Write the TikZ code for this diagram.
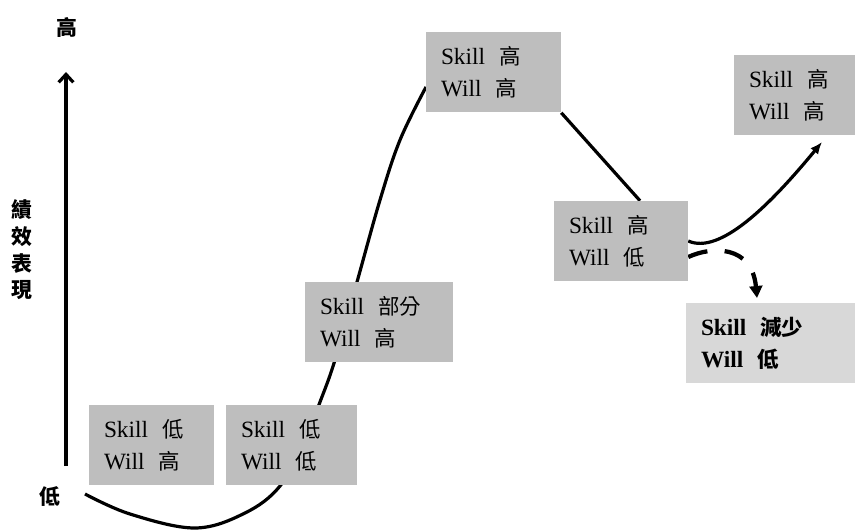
\documentclass[tikz,border=0pt]{standalone}
\usepackage{fontspec}
\setmainfont{Liberation Serif}
\newfontfamily\cjk{Noto Sans CJK TC}[Scale=0.92]
\usetikzlibrary{arrows.meta,backgrounds}
\definecolor{boxgray}{RGB}{190,190,190}
\definecolor{boxlight}{RGB}{216,216,216}
% a Chinese word after a Latin word, with a wide gap
\newcommand\zh[1]{\hspace{0.6em}{\cjk #1}}

\begin{document}
\begin{tikzpicture}[x=0.75pt,y=-0.75pt,
  box/.style={fill=boxgray, inner xsep=11.25pt, inner ysep=0pt,
    minimum height=60pt, align=left, font=\fontsize{17.5}{24}\selectfont},
  axislabel/.style={font=\cjk\bfseries\fontsize{17}{20}\selectfont,
    inner sep=0pt, align=center},
  curve/.style={line width=2.4pt}]
\useasboundingbox (0,0) rectangle (855,531);

% axis labels
\node[axislabel] (hi) at (67,27) {高};
\node[axislabel] (lo) at (50,497) {低};
\node[axislabel] (ylab) at (22,250) {績\\效\\表\\現};

% vertical axis
\coordinate (ax0) at (66,466);
\coordinate (ax1) at (66,72);
\draw[line width=2.4pt, -{Straight Barb[length=6pt,width=11pt]}] (ax0) -- (ax1);

% stage boxes
\node[box, text width=71.25pt] (B1) at (151.5,445) {Skill\zh{低}\\Will\zh{高}};
\node[box, text width=75.75pt] (B2) at (291.5,445) {Skill\zh{低}\\Will\zh{低}};
\node[box, text width=88.5pt]  (B3) at (379,322)   {Skill\zh{部分}\\Will\zh{高}};
\node[box, text width=78.75pt] (B4) at (493.5,72.5) {Skill\zh{高}\\Will\zh{高}};
\node[box, text width=78pt]    (B5) at (621,241)   {Skill\zh{高}\\Will\zh{低}};
\node[box, text width=68.25pt] (B6) at (794.5,95.5) {Skill\zh{高}\\Will\zh{高}};
\node[box, fill=boxlight, text width=104.25pt, font=\fontsize{17.5}{24}\selectfont\bfseries]
  (B7) at (770.5,343) {Skill\zh{減少}\\Will\zh{低}};

% curve ends
\coordinate (c0) at (85,494);
\coordinate (c1) at (426,87);
\coordinate (t6) at (822,142);
\coordinate (t7) at (757,298);

\begin{scope}[on background layer]
  % growth curve, running behind the boxes
  \draw[curve] plot[smooth, tension=0.6] coordinates {(c0) (130,514) (195,528)
    (245,513) (280,486) (305,440) (320,402) (335,360) (357,282) (380,200)
    (400,140) (c1)};
  \draw[curve] (B4.south east) -- ([xshift=14.25pt]B5.north);
  \draw[curve, -{Latex[length=9pt,width=7.5pt]}] (B5.east)
    .. controls (720,255) and (770,205) .. (t6);
  \draw[line width=3.2pt, dash pattern=on 15pt off 13pt,
    -{Triangle[length=9pt,width=9.5pt]}] ([yshift=-12pt]B5.east)
    .. controls (712,246) and (752,245) .. (t7);
\end{scope}
\end{tikzpicture}
\end{document}
